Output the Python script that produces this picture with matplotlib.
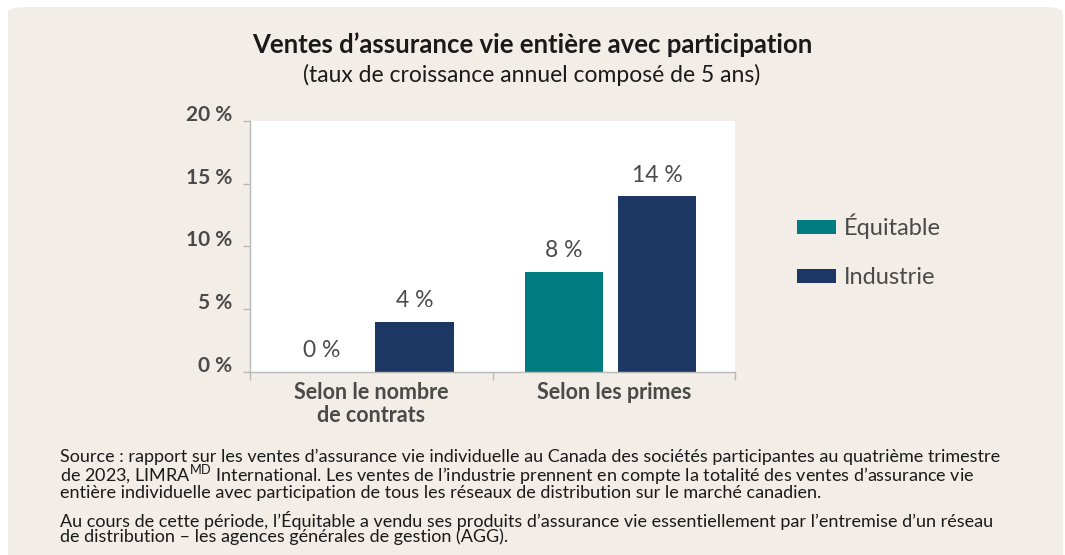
import matplotlib
matplotlib.use("Agg")
import matplotlib.pyplot as plt
from matplotlib.patches import FancyBboxPatch, Patch
import numpy as np

plt.rcParams['font.family'] = ['Lato', 'DejaVu Sans']
plt.rcParams['mathtext.fontset'] = 'custom'
plt.rcParams['mathtext.rm'] = 'Lato'

BG = '#f2ede6'
TEAL = '#007b7f'
NAVY = '#1c3764'
TXT = '#4a4a4a'
AXC = '#b8b8b8'

categories = ["Selon le nombre\nde contrats", "Selon les primes"]
series_names = ["Équitable", "Industrie"]
equitable = [0, 8]
industrie = [4, 14]
yticks = [0, 5, 10, 15, 20]

source_par1 = ("Source : rapport sur les ventes d’assurance vie individuelle au Canada des sociétés participantes au quatrième trimestre\n"
               "de 2023, LIMRA$^{\\mathrm{MD}}$ International. Les ventes de l’industrie prennent en compte la totalité des ventes d’assurance vie\n"
               "entière individuelle avec participation de tous les réseaux de distribution sur le marché canadien.")
source_par2 = ("Au cours de cette période, l’Équitable a vendu ses produits d’assurance vie essentiellement par l’entremise d’un réseau\n"
               "de distribution – les agences générales de gestion (AGG).")

fig = plt.figure(figsize=(10.65, 5.55), dpi=100)
fig.patch.set_facecolor('white')

# rounded card background, behind everything
card = FancyBboxPatch((8 / 1065, -0.05), 1055 / 1065, 1 - 7 / 555 + 0.05,
                      boxstyle="round,pad=0,rounding_size=0.02",
                      transform=fig.transFigure, facecolor=BG,
                      edgecolor='none', mutation_aspect=555 / 1065, zorder=-10)
fig.patches.append(card)

ax = fig.add_axes([250 / 1065, 1 - 372 / 555, 485 / 1065, 251 / 555])
ax.set_facecolor('white')

x = np.arange(len(categories))
w = 0.325
ax.bar(x - 0.205, equitable, w, color=TEAL, label=series_names[0])
ax.bar(x + 0.178, industrie, w, color=NAVY, label=series_names[1])

for xi, v in zip(x - 0.205, equitable):
    ax.text(xi, v + 0.85, f"{v} %", ha='center', va='bottom', fontsize=16.5, color=TXT)
for xi, v in zip(x + 0.178, industrie):
    ax.text(xi, v + 0.85, f"{v} %", ha='center', va='bottom', fontsize=16.5, color=TXT)

ax.set_xlim(-0.5, 1.5)
ax.set_ylim(0, 20)
ax.set_yticks(yticks)
ax.set_yticklabels([f"{t} %" for t in yticks], fontsize=15, fontweight='bold', color=TXT, va='baseline')
ax.set_xticks(x)
ax.set_xticklabels(categories, fontsize=15.5, fontweight='bold', color=TXT, linespacing=1.15)
ax.set_xticks([-0.5, 0.5, 1.5], minor=True)
ax.tick_params(axis='x', which='major', length=0, pad=7)
ax.tick_params(axis='x', which='minor', length=6, color=AXC, width=1)
ax.tick_params(axis='y', length=5, color=AXC, width=1, pad=8)
for s in ['top', 'right']:
    ax.spines[s].set_visible(False)
for s in ['left', 'bottom']:
    ax.spines[s].set_color(AXC)
    ax.spines[s].set_linewidth(1)

handles = [Patch(facecolor=TEAL, label=series_names[0]),
           Patch(facecolor=NAVY, label=series_names[1])]
fig.legend(handles=handles, loc='center left', bbox_to_anchor=(776 / 1065, 1 - 251 / 555),
           frameon=False, fontsize=17, handlelength=1.65, handleheight=0.55,
           labelspacing=1.2, handletextpad=0.33, labelcolor=TXT)

fig.text(532 / 1065, 1 - 45 / 555, "Ventes d’assurance vie entière avec participation",
         ha='center', va='center', fontsize=18.5, fontweight='bold', color='#1a1a1a')
fig.text(532 / 1065, 1 - 75 / 555, "(taux de croissance annuel composé de 5 ans)",
         ha='center', va='center', fontsize=16.5, color='#1a1a1a')

# source note
fig.text(60 / 1065, 1 - 449 / 555, source_par1, ha='left', va='top', fontsize=13,
         color='#1a1a1a', linespacing=0.85)
fig.text(60 / 1065, 1 - 511 / 555, source_par2, ha='left', va='top', fontsize=13,
         color='#1a1a1a', linespacing=0.85)

fig.savefig("out.png", dpi=100, facecolor='white')
